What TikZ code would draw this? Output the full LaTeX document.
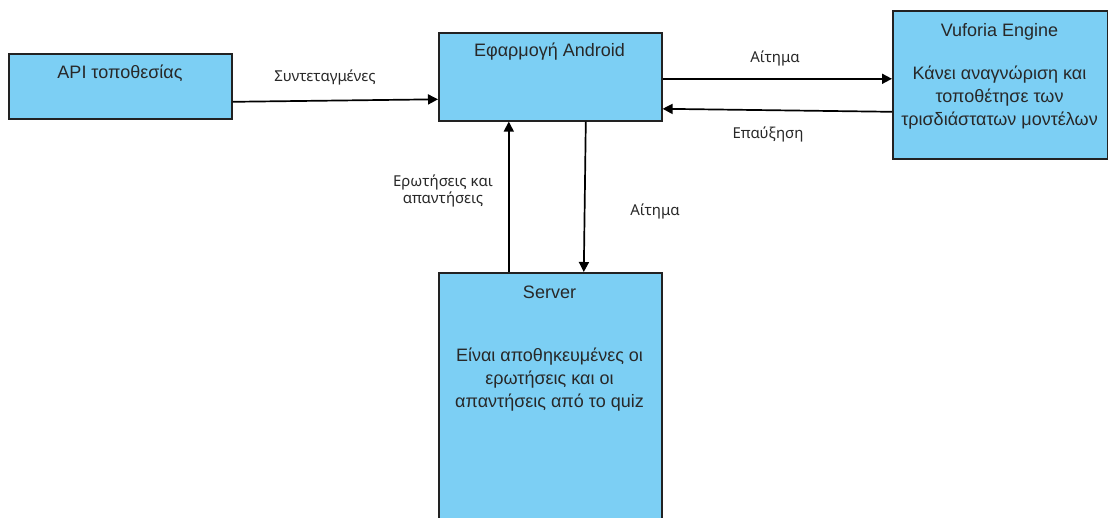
\documentclass[tikz,border=0pt]{standalone}
\usepackage{fontspec}
\setmainfont{Liberation Sans}
\newfontfamily\lblfont{Noto Sans}
\usetikzlibrary{arrows.meta}
\definecolor{boxfill}{RGB}{124,207,244}
\definecolor{boxline}{RGB}{34,34,34}
\definecolor{txt}{RGB}{40,40,40}
\tikzset{
  blk/.style={draw=boxline, fill=boxfill, line width=1.6pt, rectangle, anchor=north west, inner sep=0pt},
  ttl/.style={text=txt, font=\fontsize{18}{21}\selectfont, inner sep=0pt, align=center},
  body/.style={text=txt, font=\fontsize{18}{22.8}\selectfont, inner sep=0pt, align=center},
  lbl/.style={text=txt, font=\lblfont\fontsize{15}{17}\selectfont, inner sep=0pt, align=center},
  arr/.style={draw=black, line width=1.7pt, -{Triangle[length=10pt,width=10pt]}}
}
\begin{document}
\begin{tikzpicture}[x=1pt,y=-1pt]
\useasboundingbox[fill=white] (0,0) rectangle (1108,517);
% boxes
\node[blk, minimum width=223pt, minimum height=65pt] (api) at (8,53) {};
\node[blk, minimum width=223pt, minimum height=88pt] (android) at (438,32) {};
\node[blk, minimum width=215pt, minimum height=148pt] (vuf) at (892,10) {};
\begin{scope}
\clip (0,0) rectangle (1108,517);
\node[blk, minimum width=223pt, minimum height=270pt] (server) at (438,272) {};
\end{scope}
% texts
\node[ttl] (apit) at (120,73) {API τοποθεσίας};
\node[ttl] (andt) at (549.5,52) {Εφαρμογή Android};
\node[ttl] (vuft) at (999.5,32) {Vuforia Engine};
\node[body, anchor=north] (vufb) at (999.5,66) {Κάνει αναγνώριση και\\τοποθέτησε των\\τρισδιάστατων μοντέλων};
\node[ttl, font=\fontsize{18}{22.8}\selectfont, anchor=north] (serb) at (549.5,348) {Είναι αποθηκευμένες οι\\ερωτήσεις και οι\\απαντήσεις από το quiz};
\node[ttl] (sert) at (549.5,292) {Server};
% connectors
\draw[arr] ([yshift=-15.5pt]api.east) -- ([yshift=-22.5pt]android.west);
\draw[arr] ([yshift=-2pt]android.east) -- ([yshift=6pt]vuf.west);
\draw[arr] ([yshift=-27pt]vuf.west) -- ([yshift=-32pt]android.east);
\draw[arr] ([xshift=-41.5pt]server.north) -- ([xshift=-41.5pt]android.south);
\draw[arr] ([xshift=35.5pt]android.south) -- ([xshift=33.5pt]server.north);
% labels
\node[lbl] (l1) at (325,77) {Συντεταγμένες};
\node[lbl] (l2) at (775,58) {Αίτημα};
\node[lbl] (l3) at (768,134) {Επαύξηση};
\node[lbl] (l4) at (443,191) {Ερωτήσεις και\\απαντήσεις};
\node[lbl] (l5) at (655,211) {Αίτημα};
\end{tikzpicture}
\end{document}
